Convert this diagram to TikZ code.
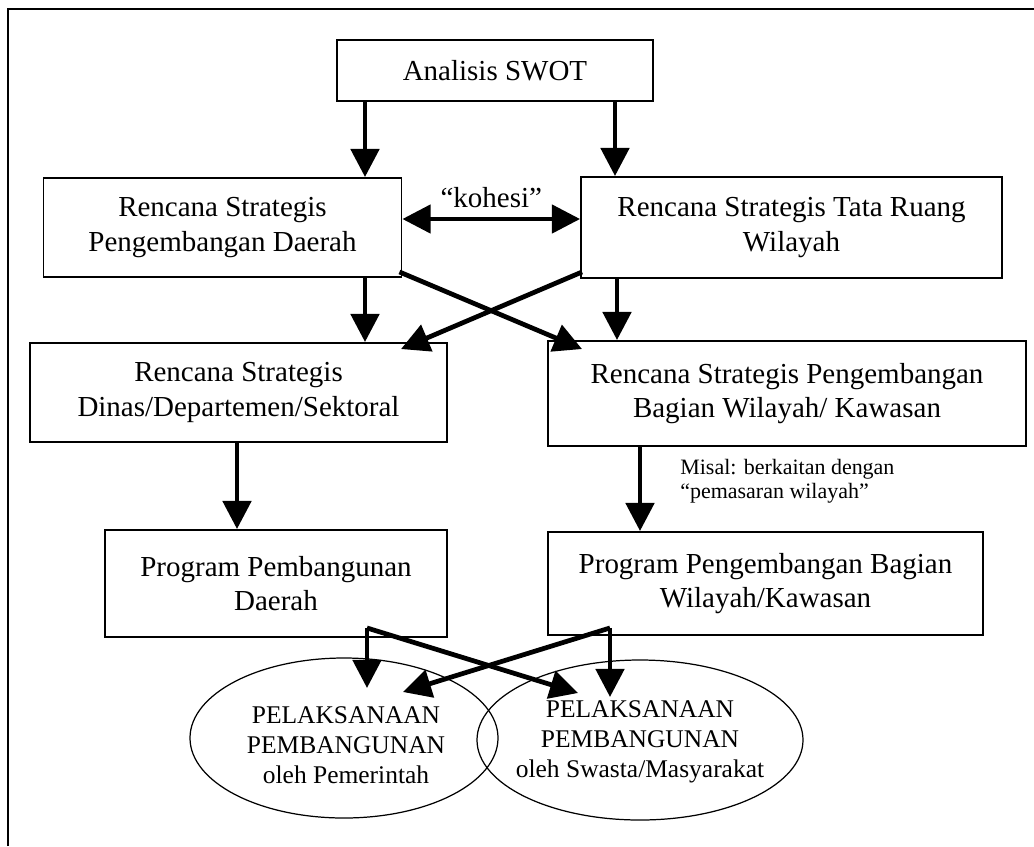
\documentclass[tikz,border=0pt]{standalone}
\usepackage{fontspec}
\setmainfont{Liberation Serif}
\usetikzlibrary{arrows.meta,calc}
\newlength\px
\setlength\px{0.02cm}

\begin{document}
\begin{tikzpicture}[x=0.02cm,y=-0.02cm,
    box/.style={draw,line width=1.1pt,align=center,inner sep=0pt,
      font=\fontsize{16.5}{19.5}\selectfont},
    ovaltext/.style={align=center,inner sep=0pt,font=\fontsize{14.5}{17}\selectfont},
    note/.style={align=left,inner sep=0pt,font=\fontsize{12.5}{13.8}\selectfont},
    arr/.style={-{Triangle[length=16pt,width=16pt]},line width=2.7pt},
    dblarr/.style={{Triangle[length=16pt,width=16pt]}-{Triangle[length=16pt,width=16pt]},line width=2.4pt}]
  \useasboundingbox (0,0) rectangle (1034,846);
  % frame (only top and left edges are visible)
  \draw[line width=1pt] (8,846) -- (8,9) -- (1034,9);

  % boxes
  \node[box,minimum width=316\px,minimum height=61\px]  (swot)  at (495,70.5)   {Analisis SWOT};
  \node[box,minimum width=358\px,minimum height=99\px]  (rspd)  at (222.5,227.5) {Rencana Strategis\\Pengembangan Daerah};
  \node[box,minimum width=421\px,minimum height=101\px] (rstrw) at (791.5,227.5) {Rencana Strategis Tata Ruang\\Wilayah};
  \node[box,minimum width=417\px,minimum height=99\px]  (rsdds) at (238.5,392.5) {Rencana Strategis\\Dinas/Departemen/Sektoral};
  \node[box,minimum width=478\px,minimum height=105\px] (rspbw) at (787,393.5)   {Rencana Strategis Pengembangan\\Bagian Wilayah/ Kawasan};
  \node[box,minimum width=342\px,minimum height=107\px] (ppd)   at (276,583.5)   {Program Pembangunan\\Daerah};
  \node[box,minimum width=435\px,minimum height=103\px] (ppbw)  at (765.5,583.5) {Program Pengembangan Bagian\\Wilayah/Kawasan};

  % the two ellipses
  \node[ovaltext] (pl) at (346,745) {PELAKSANAAN\\PEMBANGUNAN\\oleh Pemerintah};
  \node[ovaltext] (ps) at (640,742) {PELAKSANAAN\\PEMBANGUNAN\\oleh Swasta/Masyarakat};
  \draw[line width=0.7pt] (344,738) ellipse [x radius=154\px, y radius=80\px];
  \draw[line width=0.7pt] (640,740) ellipse [x radius=163\px, y radius=80\px];

  \node[note,anchor=north west] (misal) at (680,459) {Misal: berkaitan dengan\\“pemasaran wilayah”};

  % columns of the vertical arrows
  \coordinate (cA) at (365,0);
  \coordinate (cB) at (615,0);
  \coordinate (cC) at (617,0);
  \coordinate (cD) at (237,0);
  \coordinate (cE) at (640,0);
  \coordinate (cF) at (367,0);
  \coordinate (cG) at (610,0);
  \coordinate (kY) at (0,219);

  \draw[arr] (swot.south -| cA) -- (rspd.north -| cA);
  \draw[arr] (swot.south -| cB) -- (rstrw.north -| cB);
  \draw[dblarr] (kY -| rspd.east) -- (kY -| rstrw.west)
    node[midway,above=2pt,font=\fontsize{16.5}{19.5}\selectfont] (kohesi) {“kohesi”};

  \draw[arr] (rspd.south -| cA) -- (rsdds.north -| cA);
  \draw[arr] (rstrw.south -| cC) -- (rspbw.north -| cC);
  \draw[arr] ($(rspd.south east)+(-3,-6)$) -- ($(rspbw.north west)+(35,9)$);
  \draw[arr] ($(rstrw.south west)+(2,-7)$) -- ($(rsdds.north east)+(-47,7)$);

  \draw[arr] (rsdds.south -| cD) -- (ppd.north -| cD);
  \draw[arr] (rspbw.south -| cE) -- (ppbw.north -| cE);

  % into the ellipses
  \coordinate (tL) at (367,688);
  \coordinate (tR) at (610,697);
  \coordinate (tX) at (578,693);
  \coordinate (tY) at (403,692);
  \draw[arr] ($(ppd.south -| cF)+(0,-10)$) -- (tL);
  \draw[arr] ($(ppbw.south -| cG)+(0,-8)$) -- (tR);
  \draw[arr] ($(ppd.south -| cF)+(0,-10)$) -- (tX);
  \draw[arr] ($(ppbw.south -| cG)+(0,-8)$) -- (tY);
\end{tikzpicture}
\end{document}
